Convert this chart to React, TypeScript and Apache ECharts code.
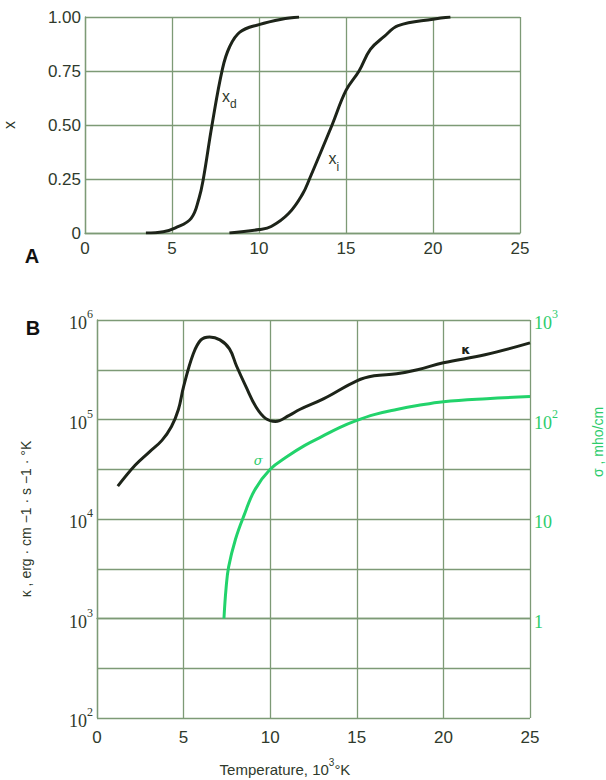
import React, { useEffect, useRef } from "react";
import * as echarts from "echarts";

// ---- Panel A: degree of dissociation / ionization ----
const xTicksA = [0, 5, 10, 15, 20, 25];
const xdT = [3.5, 4.5, 5.2, 6.1, 6.55, 6.8, 7.3, 7.9, 8.3, 8.9, 10.0, 11.3, 12.3];
const xdV = [0, 0.006, 0.024, 0.068, 0.16, 0.25, 0.5, 0.76, 0.86, 0.93, 0.965, 0.99, 1.0];
const xiT = [8.3, 10.0, 10.7, 11.7, 12.5, 12.9, 14.2, 15.0, 15.75, 16.4, 17.2, 18.0, 20.0, 21.0];
const xiV = [0, 0.016, 0.03, 0.09, 0.18, 0.25, 0.5, 0.66, 0.75, 0.85, 0.91, 0.96, 0.99, 1.0];

// ---- Panel B: thermal conductivity kappa (erg/cm/s/K) and electrical conductivity sigma (mho/cm) ----
const kT = [1.2, 2.2, 3.0, 3.75, 4.3, 4.7, 5.0, 5.56, 6.0, 6.5, 7.1, 7.65, 8.05, 8.6, 9.2, 9.75, 10.3, 11.1, 11.7, 13.1, 15.0, 16.0, 17.3, 18.5, 20.0, 22.4, 25.0];
const kV = [2.14e4, 3.47e4, 4.68e4, 6.17e4, 8.5e4, 1.26e5, 2.14e5, 4.57e5, 6.31e5, 6.76e5, 6.31e5, 5.13e5, 3.47e5, 2.14e5, 1.32e5, 1.02e5, 9.55e4, 1.1e5, 1.26e5, 1.62e5, 2.45e5, 2.75e5, 2.88e5, 3.16e5, 3.72e5, 4.47e5, 5.89e5];
const sT = [7.33, 7.45, 7.6, 8.0, 8.5, 9.1, 10.0, 11.0, 12.0, 13.0, 14.0, 15.0, 16.0, 17.3, 18.5, 20.0, 22.5, 25.0];
const sV = [1.0, 2.0, 3.3, 6.3, 11, 19.5, 31.6, 42.7, 55, 67.6, 83, 98, 112, 126, 138, 151, 162, 170];

// label anchors (data space)
const xdLabel = [8.3, 0.62];
const xiLabel = [14.3, 0.33];
const kLabel = [21.3, 5.1e5];
const sLabel = [9.3, 39];

const GRID = "#7d9a76";
const INK = "#2f3a2c";
const BLACK = "#1d2419";
const GREEN = "#22d36b";
const GREEN_TXT = "#2ccc6c";

export default function App() {
  const ref = useRef<HTMLDivElement>(null);
  useEffect(() => {
    if (!ref.current) return;
    const chart = echarts.init(ref.current, undefined, { renderer: "svg" });
    const lg = (v: number) => Math.log10(v);
    const isInt = (v: number) => Math.abs(v - Math.round(v)) < 1e-6;
    const supRich = (color: string, size: number) => ({
      b: { fontSize: size, fontFamily: "Liberation Serif", color, lineHeight: 24, verticalAlign: "bottom" },
      s: { fontSize: 12, fontFamily: "Liberation Serif", color, lineHeight: 12, verticalAlign: "top" },
    });
    const splitLine = { show: true, lineStyle: { color: GRID, width: 1.3 } };
    const axisLine = { show: true, lineStyle: { color: GRID, width: 1.3 } };
    const subRich = {
      a: { fontSize: 16, fontFamily: "Liberation Sans", color: INK, lineHeight: 22, verticalAlign: "top" },
      d: { fontSize: 12, fontFamily: "Liberation Sans", color: INK, lineHeight: 12, verticalAlign: "bottom" },
    };
    const hiddenMark = (coord: number[], text: string, rich: any, color?: string) => ({
      symbol: "circle",
      symbolSize: 1,
      silent: true,
      itemStyle: { color: "rgba(0,0,0,0)" },
      label: { show: true, position: "inside", formatter: text, rich, color: color || INK },
      data: [{ coord }],
    });
    const curve = { type: "line", showSymbol: false, smooth: 0.4 };

    chart.setOption({
      animation: false,
      backgroundColor: "#ffffff",
      grid: [
        { left: 85, top: 17, width: 435, height: 216, outerBoundsMode: "none" },
        { left: 97, top: 320, width: 433, height: 398, outerBoundsMode: "none" },
      ],
      xAxis: [
        {
          gridIndex: 0, type: "value", min: 0, max: 25, interval: 5,
          axisLine, axisTick: { show: false }, splitLine,
          axisLabel: { color: INK, fontSize: 17, fontFamily: "Liberation Sans", margin: 7,
            formatter: (v: number) => (xTicksA.includes(v) ? String(v) : "") },
        },
        {
          gridIndex: 1, type: "value", min: 0, max: 25, interval: 5,
          axisLine, axisTick: { show: false }, splitLine,
          axisLabel: { color: INK, fontSize: 17, fontFamily: "Liberation Sans", margin: 11 },
        },
      ],
      yAxis: [
        {
          gridIndex: 0, type: "value", min: 0, max: 1, interval: 0.25,
          axisLine, axisTick: { show: false }, splitLine,
          axisLabel: { color: INK, fontSize: 17, fontFamily: "Liberation Sans", margin: 4,
            formatter: (v: number) => (v === 0 ? "0" : v.toFixed(2)) },
          name: "x", nameLocation: "middle", nameRotate: 90, nameGap: 68,
          nameTextStyle: { color: INK, fontSize: 16, fontFamily: "Liberation Sans" },
        },
        {
          gridIndex: 1, type: "value", min: 2, max: 6, interval: 0.5,
          axisLine, axisTick: { show: false }, splitLine,
          axisLabel: {
            margin: 4,
            formatter: (v: number) => (isInt(v) ? `{b|10}{s|${Math.round(v)}}` : ""),
            rich: supRich(INK, 18),
          },
          name: "κ , erg · cm −1 · s −1 · °K", nameLocation: "middle", nameRotate: 90, nameGap: 64,
          nameTextStyle: { color: INK, fontSize: 14, fontFamily: "Liberation Sans" },
        },
        {
          gridIndex: 1, type: "value", position: "right", min: -1, max: 3, interval: 0.5,
          axisLine: { show: false }, axisTick: { show: false }, splitLine: { show: false },
          axisLabel: {
            margin: 4,
            formatter: (v: number) => {
              if (!isInt(v)) return "";
              const n = Math.round(v);
              if (n < 0) return "";
              if (n === 0) return "{b|1}";
              if (n === 1) return "{b|10}";
              return `{b|10}{s|${n}}`;
            },
            rich: supRich(GREEN_TXT, 18),
          },
        },
      ],
      graphic: [
        { type: "text", x: 32, y: 256, style: { text: "A", fontSize: 20, fontWeight: "bold", fontFamily: "Liberation Sans", fill: "#111", align: "center", verticalAlign: "middle" } },
        { type: "text", x: 33, y: 328, style: { text: "B", fontSize: 20, fontWeight: "bold", fontFamily: "Liberation Sans", fill: "#111", align: "center", verticalAlign: "middle" } },
        { type: "text", x: 598, y: 442, rotation: Math.PI / 2, style: { text: "σ , mho/cm", fontSize: 14, fontFamily: "Liberation Sans", fill: GREEN_TXT, align: "center", verticalAlign: "middle" } },
        { type: "text", x: 285, y: 767, style: {
            text: "{a|Temperature, 10}{s|3}{a|°K}", align: "center", verticalAlign: "middle",
            rich: {
              a: { fontSize: 15, fontFamily: "Liberation Sans", fill: INK, lineHeight: 19, verticalAlign: "bottom" },
              s: { fontSize: 10, fontFamily: "Liberation Sans", fill: INK, lineHeight: 10, verticalAlign: "top" },
            } } },
      ],
      series: [
        {
          ...curve, xAxisIndex: 0, yAxisIndex: 0,
          lineStyle: { color: BLACK, width: 3 }, data: xdT.map((t, i) => [t, xdV[i]]),
          markPoint: hiddenMark(xdLabel, "{a|x}{d|d}", subRich),
        },
        {
          ...curve, xAxisIndex: 0, yAxisIndex: 0,
          lineStyle: { color: BLACK, width: 3 }, data: xiT.map((t, i) => [t, xiV[i]]),
          markPoint: hiddenMark(xiLabel, "{a|x}{d|i}", subRich),
        },
        {
          ...curve, xAxisIndex: 1, yAxisIndex: 1,
          lineStyle: { color: BLACK, width: 3 }, data: kT.map((t, i) => [t, lg(kV[i])]),
          markPoint: hiddenMark([kLabel[0], lg(kLabel[1])], "{k|κ}", { k: { fontSize: 13, fontWeight: "bold", color: BLACK, fontFamily: "DejaVu Sans" } }),
        },
        {
          ...curve, xAxisIndex: 1, yAxisIndex: 2,
          lineStyle: { color: GREEN, width: 3 }, data: sT.map((t, i) => [t, lg(sV[i])]),
          markPoint: hiddenMark([sLabel[0], lg(sLabel[1])], "{g|σ}", { g: { fontSize: 13, color: GREEN_TXT, fontFamily: "DejaVu Serif", fontStyle: "italic" } }),
        },
      ],
    });
    return () => chart.dispose();
  }, []);
  return <div ref={ref} style={{ position: "absolute", left: 0, top: 0, width: 606, height: 780 }} />;
}
